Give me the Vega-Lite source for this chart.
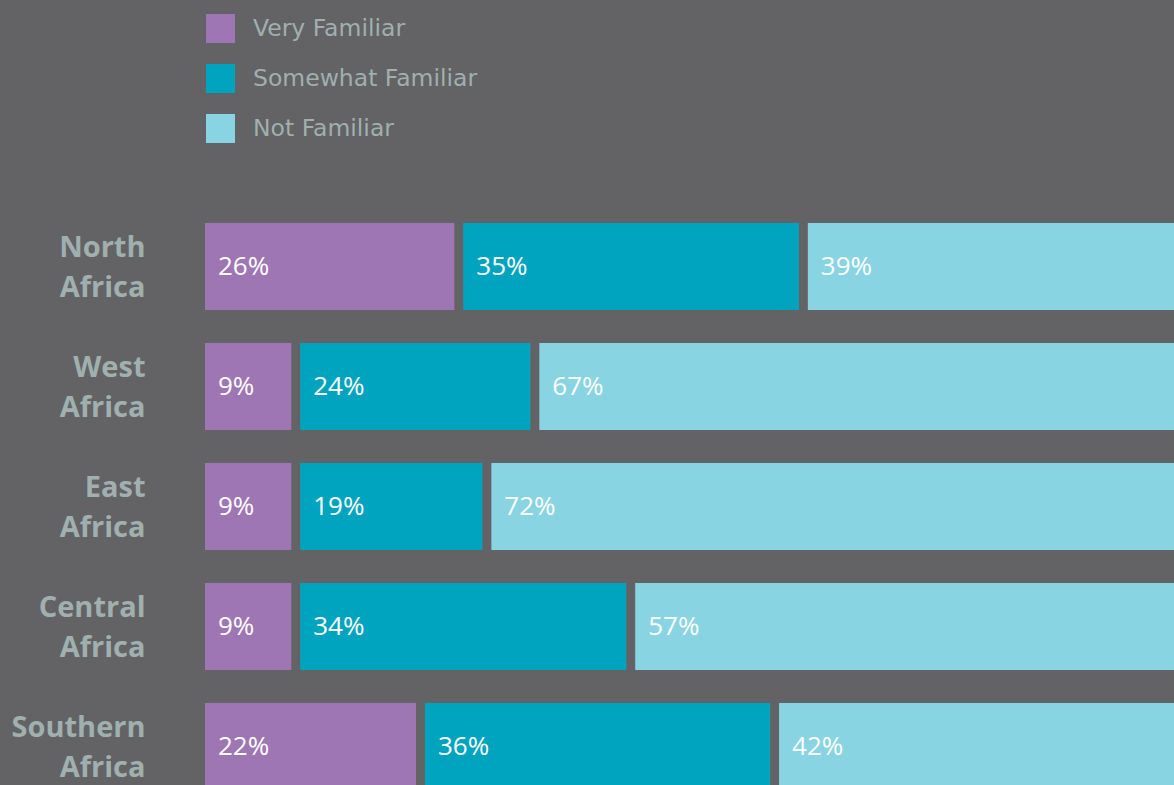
{
  "$schema": "https://vega.github.io/schema/vega-lite/v6.json",
  "autosize": {"type": "none"},
  "padding": {"left": 205, "top": 206.5, "right": 0, "bottom": 0},
  "width": 969,
  "height": 600,
  "background": "#636366",
  "config": {
    "view": {"stroke": null},
    "font": "Open Sans"
  },
  "data": {
    "values": [
      {"region": "North Africa", "category": "Very Familiar", "value": 26},
      {"region": "North Africa", "category": "Somewhat Familiar", "value": 35},
      {"region": "North Africa", "category": "Not Familiar", "value": 39},
      {"region": "West Africa", "category": "Very Familiar", "value": 9},
      {"region": "West Africa", "category": "Somewhat Familiar", "value": 24},
      {"region": "West Africa", "category": "Not Familiar", "value": 67},
      {"region": "East Africa", "category": "Very Familiar", "value": 9},
      {"region": "East Africa", "category": "Somewhat Familiar", "value": 19},
      {"region": "East Africa", "category": "Not Familiar", "value": 72},
      {"region": "Central Africa", "category": "Very Familiar", "value": 9},
      {"region": "Central Africa", "category": "Somewhat Familiar", "value": 34},
      {"region": "Central Africa", "category": "Not Familiar", "value": 57},
      {"region": "Southern Africa", "category": "Very Familiar", "value": 22},
      {"region": "Southern Africa", "category": "Somewhat Familiar", "value": 36},
      {"region": "Southern Africa", "category": "Not Familiar", "value": 42}
    ]
  },
  "transform": [
    {"stack": "value", "groupby": ["region"], "sort": [{"field": "category", "order": "descending"}], "as": ["s0", "s1"]},
    {"calculate": "indexof(['Very Familiar','Somewhat Familiar','Not Familiar'], datum.category)", "as": "idx"},
    {"calculate": "datum.s0 + datum.idx * 0.93", "as": "x0"},
    {"calculate": "datum.s1 + datum.idx * 0.93", "as": "x1"},
    {"calculate": "datum.value + '%'", "as": "label"}
  ],
  "encoding": {
    "y": {
      "field": "region",
      "type": "nominal",
      "sort": ["North Africa", "West Africa", "East Africa", "Central Africa", "Southern Africa"],
      "scale": {"paddingInner": 0.275, "paddingOuter": 0.1375},
      "axis": {
        "title": null,
        "domain": false,
        "ticks": false,
        "labelExpr": "split(datum.label, ' ')",
        "labelFontSize": 29,
        "labelFontWeight": "bold",
        "labelColor": "#9fb0ae",
        "labelPadding": 60,
        "labelLineHeight": 40,
        "labelOffset": -19,
        "labelAlign": "right",
        "labelBaseline": "middle",
        "labelLimit": 300
      }
    }
  },
  "layer": [
    {
      "mark": {"type": "bar", "clip": true},
      "encoding": {
        "x": {"field": "x0", "type": "quantitative", "scale": {"domain": [0, 101.04], "nice": false, "zero": false}, "axis": null},
        "x2": {"field": "x1"},
        "color": {
          "field": "category",
          "type": "nominal",
          "scale": {"domain": ["Very Familiar", "Somewhat Familiar", "Not Familiar"], "range": ["#9e76b3", "#00a4bf", "#88d4e3"]},
          "legend": {
            "orient": "none",
            "legendX": 1,
            "legendY": -192.5,
            "title": null,
            "symbolType": "square",
            "symbolSize": 841,
            "symbolStrokeWidth": 0,
            "symbolOpacity": 1,
            "labelFontSize": 23.5,
            "labelColor": "#9fb0ae",
            "labelOffset": 18,
            "labelLimit": 400,
            "rowPadding": 21,
            "labelFont": "DejaVu Sans"
          }
        }
      }
    },
    {
      "mark": {"type": "text", "align": "left", "baseline": "middle", "dx": 13, "fontSize": 26, "color": "white", "fontWeight": 500},
      "encoding": {
        "x": {"field": "x0", "type": "quantitative"},
        "text": {"field": "label"}
      }
    }
  ]
}
